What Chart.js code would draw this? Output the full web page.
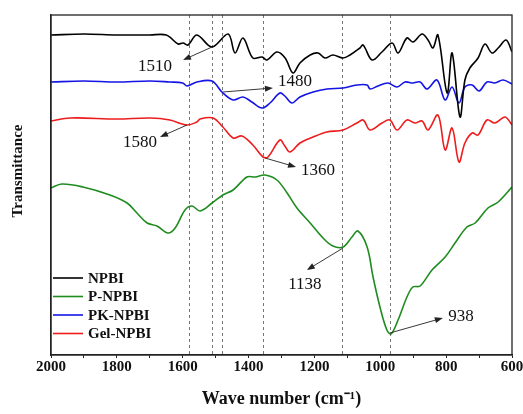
<!DOCTYPE html>
<html>
<head>
<meta charset="utf-8">
<script src="https://cdn.jsdelivr.net/npm/chart.js@4.4.0/dist/chart.umd.min.js"></script>
<style>
html, body { margin: 0; padding: 0; background: #fff; }
#wrap { width: 523px; height: 414px; position: relative; }
</style>
</head>
<body>
<div id="wrap"><canvas id="ftir"></canvas></div>
<script>
// FTIR spectra, wavenumber (cm-1) vs transmittance (arbitrary, curves offset)
const npbiWave = [2000, 1900, 1800, 1700, 1650, 1614, 1599, 1584, 1557, 1511, 1462, 1441, 1417, 1387, 1359, 1344, 1314, 1289, 1265, 1244, 1213, 1189, 1168, 1144, 1113, 1092, 1062, 1052, 1025, 995, 964, 946, 919, 901, 873, 855, 840, 825, 797, 782, 758, 743, 728, 703, 682, 661, 642, 618, 600];
const npbiT = [320, 321, 320, 320, 320, 311, 312, 310, 320, 308, 321, 302, 317, 297, 298, 295, 303, 297, 282, 292, 300, 302, 297, 300, 297, 300, 307, 310, 295, 303, 312, 302, 317, 313, 321, 315, 307, 320, 262, 302, 238, 275, 287, 297, 311, 302, 307, 315, 303];

const pnpbiWave = [2000, 1967, 1903, 1821, 1769, 1739, 1708, 1678, 1645, 1623, 1593, 1572, 1547, 1511, 1478, 1447, 1405, 1380, 1350, 1314, 1283, 1253, 1213, 1174, 1144, 1113, 1086, 1068, 1040, 1022, 1001, 980, 967, 946, 919, 901, 879, 843, 803, 773, 737, 712, 673, 642, 600];
const pnpbiT = [167, 171, 168, 160, 152, 142, 132, 129, 122, 127, 145, 149, 144, 152, 160, 165, 178, 178, 180, 175, 162, 147, 132, 117, 109, 108, 118, 124, 108, 78, 48, 25, 21, 35, 58, 68, 69, 85, 98, 112, 128, 132, 147, 153, 168];

const pknpbiWave = [2000, 1900, 1800, 1700, 1640, 1600, 1587, 1557, 1511, 1481, 1447, 1417, 1390, 1359, 1335, 1305, 1290, 1268, 1244, 1204, 1162, 1113, 1071, 1040, 1031, 1007, 977, 949, 925, 901, 879, 858, 828, 803, 782, 761, 743, 721, 700, 676, 652, 627, 600];
const pknpbiT = [273, 274, 273, 274, 273, 272, 269, 273, 274, 263, 255, 258, 253, 247, 252, 262, 259, 252, 258, 263, 266, 267, 270, 270, 266, 269, 272, 268, 273, 272, 273, 266, 275, 255, 268, 252, 268, 270, 264, 273, 272, 275, 271];

const gelWave = [2000, 1942, 1800, 1699, 1639, 1587, 1557, 1547, 1508, 1478, 1447, 1420, 1387, 1356, 1341, 1305, 1290, 1274, 1244, 1204, 1162, 1113, 1071, 1052, 1031, 995, 971, 949, 919, 895, 873, 855, 825, 803, 782, 761, 743, 721, 703, 676, 652, 621, 600];
const gelT = [234, 237, 236, 237, 235, 230, 233, 236, 237, 228, 217, 219, 210, 198, 198, 215, 209, 203, 212, 218, 223, 225, 232, 235, 225, 232, 235, 225, 235, 232, 234, 225, 240, 205, 227, 193, 212, 222, 220, 235, 232, 238, 230];

const seriesNames = ['NPBI', 'P-NPBI', 'PK-NPBI', 'Gel-NPBI'];
const seriesColors = ['#000000', '#1f8c1f', '#1414e6', '#ee1c1c'];

const xTicks = [2000, 1800, 1600, 1400, 1200, 1000, 800, 600];
const peakLines = [1580, 1510, 1480, 1355, 1115, 970];

// annotations: label, arrow tail (on curve), arrow head, text centre
const peakNames = ['1510', '1480', '1580', '1360', '1138', '938'];
const peakTail = [[1511, 308], [1478, 263], [1587, 230], [1350, 197], [1113, 107], [971, 22]];
const peakHead = [[1599, 295], [1326, 267], [1669, 218], [1256, 188], [1223, 85], [810, 37]];
const peakText = [[1684, 288], [1259, 273], [1730, 212], [1189, 184], [1229, 70], [755, 38]];

const serif = "'Liberation Serif', 'Times New Roman', serif";

function pts(w, t) {
    return w.map((x, i) => ({ x: x, y: t[i] }));
}

const extras = {
    id: 'extras',
    beforeDatasetsDraw(chart) {
        const { ctx, chartArea, scales } = chart;
        ctx.save();
        ctx.strokeStyle = '#555';
        ctx.lineWidth = 0.8;
        ctx.setLineDash([3, 3]);
        peakLines.forEach((w) => {
            const px = Math.round(scales.x.getPixelForValue(w)) + 0.5;
            ctx.beginPath();
            ctx.moveTo(px, chartArea.top);
            ctx.lineTo(px, chartArea.bottom);
            ctx.stroke();
        });
        ctx.restore();
    },
    afterDatasetsDraw(chart) {
        const { ctx, chartArea, scales } = chart;
        const X = (v) => scales.x.getPixelForValue(v);
        const Y = (v) => scales.y.getPixelForValue(v);
        ctx.save();
        // arrows + labels
        ctx.strokeStyle = '#222';
        ctx.fillStyle = '#222';
        ctx.lineWidth = 0.9;
        peakNames.forEach((name, i) => {
            const x1 = X(peakTail[i][0]), y1 = Y(peakTail[i][1]);
            const x2 = X(peakHead[i][0]), y2 = Y(peakHead[i][1]);
            const ang = Math.atan2(y2 - y1, x2 - x1);
            ctx.beginPath();
            ctx.moveTo(x1, y1);
            ctx.lineTo(x2 - 6 * Math.cos(ang), y2 - 6 * Math.sin(ang));
            ctx.stroke();
            ctx.beginPath();
            ctx.moveTo(x2, y2);
            ctx.lineTo(x2 - 8 * Math.cos(ang) + 3 * Math.sin(ang), y2 - 8 * Math.sin(ang) - 3 * Math.cos(ang));
            ctx.lineTo(x2 - 8 * Math.cos(ang) - 3 * Math.sin(ang), y2 - 8 * Math.sin(ang) + 3 * Math.cos(ang));
            ctx.closePath();
            ctx.fill();
        });
        ctx.fillStyle = '#111';
        ctx.font = '17px ' + serif;
        ctx.textAlign = 'center';
        ctx.textBaseline = 'middle';
        peakNames.forEach((name, i) => {
            ctx.fillText(name, X(peakText[i][0]), Y(peakText[i][1]));
        });

        // legend inside plot, bottom left
        ctx.font = 'bold 15px ' + serif;
        ctx.textAlign = 'left';
        chart.data.datasets.forEach((ds, i) => {
            const y = chartArea.bottom - 77 + i * 18.5;
            ctx.strokeStyle = ds.borderColor;
            ctx.lineWidth = 1.6;
            ctx.beginPath();
            ctx.moveTo(chartArea.left + 2, y);
            ctx.lineTo(chartArea.left + 32, y);
            ctx.stroke();
            ctx.fillStyle = '#111';
            ctx.fillText(ds.label, chartArea.left + 37, y + 1);
        });
        ctx.restore();
    },
    afterDraw(chart) {
        const { ctx, chartArea } = chart;
        ctx.save();
        ctx.strokeStyle = '#222';
        ctx.lineWidth = 1.3;
        ctx.strokeRect(chartArea.left, chartArea.top, chartArea.right - chartArea.left, chartArea.bottom - chartArea.top);
        // y axis title, sits a little above the middle as in the figure
        ctx.translate(18, 171);
        ctx.rotate(-Math.PI / 2);
        ctx.font = 'bold 15px ' + serif;
        ctx.fillStyle = '#111';
        ctx.textAlign = 'center';
        ctx.textBaseline = 'middle';
        ctx.fillText('Transmittance', 0, 0);
        ctx.restore();
    }
};

new Chart(document.getElementById('ftir'), {
    type: 'line',
    data: {
        datasets: [
            { label: seriesNames[0], data: pts(npbiWave, npbiT), borderColor: seriesColors[0] },
            { label: seriesNames[1], data: pts(pnpbiWave, pnpbiT), borderColor: seriesColors[1] },
            { label: seriesNames[2], data: pts(pknpbiWave, pknpbiT), borderColor: seriesColors[2] },
            { label: seriesNames[3], data: pts(gelWave, gelT), borderColor: seriesColors[3] },
        ],
    },
    options: {
        responsive: true,
        maintainAspectRatio: false,
        animation: false,
        layout: { padding: { top: 15, right: 11, left: 0, bottom: 0 } },
        elements: {
            point: { radius: 0 },
            line: { borderWidth: 1.6, tension: 0.35, fill: false },
        },
        plugins: {
            legend: { display: false },
            tooltip: { enabled: false },
        },
        scales: {
            x: {
                type: 'linear',
                reverse: true,
                min: 600,
                max: 2000,
                afterFit: (scale) => { scale.height = 59; },
                afterBuildTicks: (scale) => {
                    const t = [];
                    for (let v = 600; v <= 2000; v += 100) t.push({ value: v });
                    scale.ticks = t;
                },
                ticks: {
                    autoSkip: false,
                    maxRotation: 0,
                    color: '#111',
                    padding: 0,
                    font: { family: serif, size: 15, weight: 'bold' },
                    callback: (v) => (xTicks.includes(v) ? String(v) : ''),
                },
                grid: { display: true, drawOnChartArea: false, drawTicks: true, tickLength: 3, color: '#222' },
                border: { display: true, color: '#222', width: 1.3 },
                title: {
                    display: true,
                    text: 'Wave number (cm⁻¹)',
                    color: '#111',
                    font: { family: serif, size: 18, weight: 'bold', lineHeight: 1.2 },
                    padding: { top: 0, bottom: 4 },
                },
            },
            y: {
                min: 0,
                max: 340,
                afterFit: (scale) => { scale.width = 51; },
                ticks: { display: false },
                grid: { display: false },
                border: { display: true, color: '#222', width: 1.3 },
            },
        },
    },
    plugins: [extras],
});
</script>
</body>
</html>
